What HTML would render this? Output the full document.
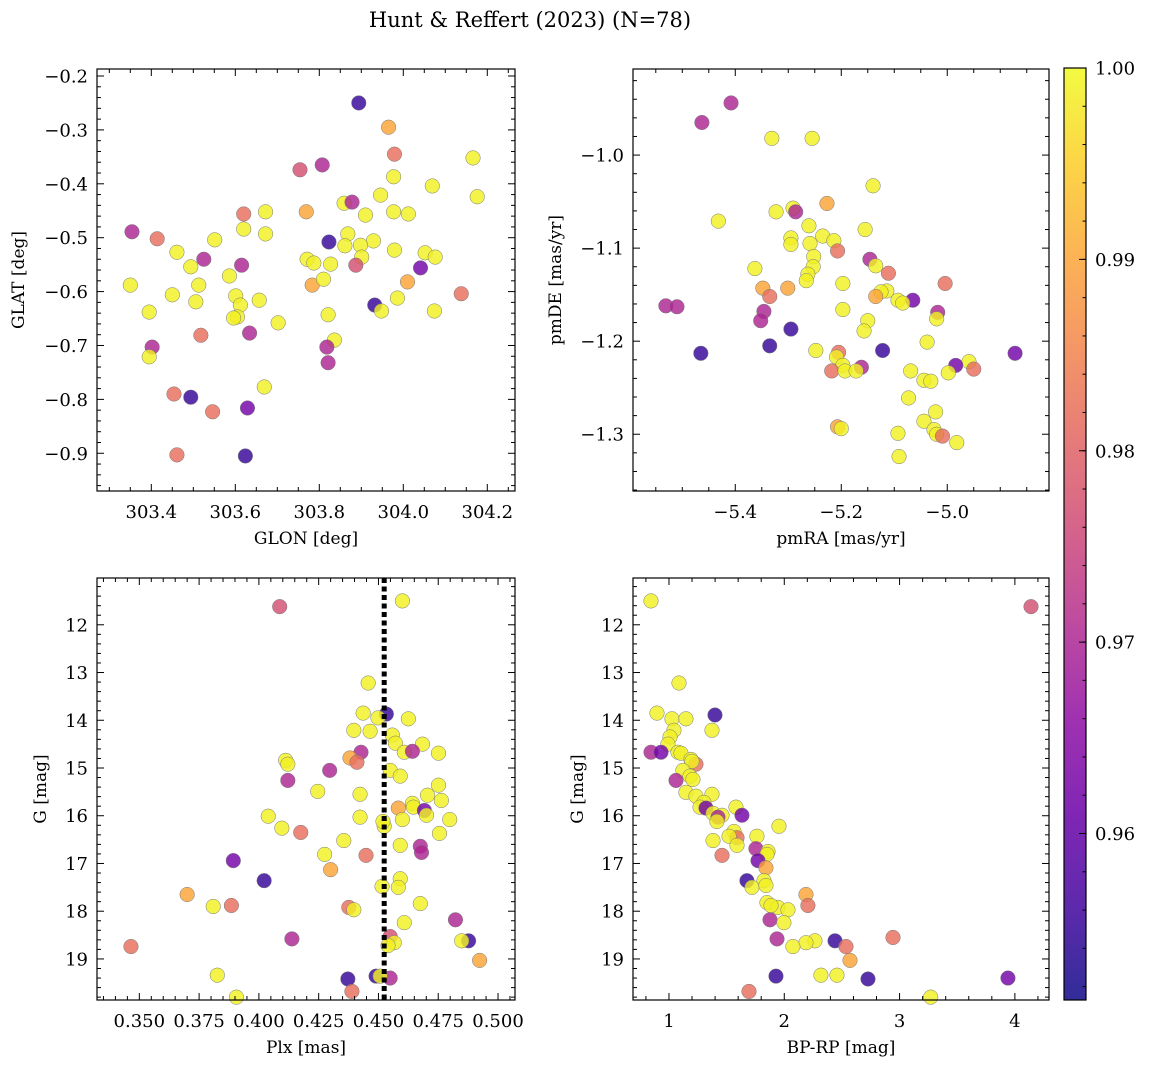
<!DOCTYPE html>
<html><head><meta charset="utf-8">
<style>
body{margin:0;background:#fff;}
svg text{font-family:"DejaVu Serif","Liberation Serif",serif;fill:#000;}
</style></head>
<body>
<svg id="fig" width="1149" height="1068" viewBox="0 0 1149 1068" xmlns="http://www.w3.org/2000/svg" font-family="DejaVu Serif, Liberation Serif, serif">
<rect width="1149" height="1068" fill="#fff"/>
<text x="530" y="27" font-size="21" text-anchor="middle" font-family="DejaVu Serif, Liberation Serif, serif">Hunt &amp; Reffert (2023) (N=78)</text>
</svg>
<script>
// ---- data ----
const p1Glon=[303.894,303.965,303.979,304.166,303.754,303.807,304.069,303.977,303.946,304.176,303.859,303.878,303.769,303.910,303.977,304.012,303.620,303.672,303.354,303.414,303.620,303.672,303.823,303.868,303.861,303.929,303.898,303.551,303.461,304.052,304.076,303.979,303.901,303.494,303.525,303.615,303.771,303.787,303.827,303.887,304.041,303.350,303.450,303.513,303.506,303.586,303.783,303.810,304.010,303.986,303.601,303.612,303.605,303.596,303.657,303.932,303.948,304.074,303.395,303.518,303.634,303.702,303.821,303.836,303.402,303.395,303.818,303.821,303.669,303.454,303.494,303.546,303.629,303.461,303.624,304.138];
const p1Glat=[-0.250,-0.295,-0.345,-0.352,-0.374,-0.365,-0.404,-0.387,-0.421,-0.424,-0.436,-0.434,-0.452,-0.458,-0.452,-0.456,-0.456,-0.452,-0.489,-0.502,-0.484,-0.493,-0.508,-0.493,-0.515,-0.506,-0.514,-0.504,-0.527,-0.528,-0.536,-0.523,-0.536,-0.554,-0.540,-0.551,-0.540,-0.547,-0.549,-0.551,-0.556,-0.588,-0.606,-0.588,-0.619,-0.571,-0.588,-0.577,-0.582,-0.612,-0.608,-0.625,-0.647,-0.649,-0.616,-0.625,-0.636,-0.636,-0.638,-0.681,-0.677,-0.658,-0.643,-0.690,-0.703,-0.721,-0.703,-0.732,-0.777,-0.790,-0.796,-0.823,-0.816,-0.903,-0.905,-0.604];
const p1Prob=[0.955,0.99,0.982,0.999,0.977,0.970,0.999,0.999,0.999,0.999,0.999,0.970,0.99,0.999,0.999,0.999,0.982,0.999,0.970,0.982,0.999,0.999,0.955,0.999,0.999,0.999,0.999,0.999,0.999,0.999,0.999,0.999,0.999,0.999,0.970,0.970,0.999,0.999,0.999,0.977,0.962,0.999,0.999,0.999,0.999,0.999,0.99,0.999,0.99,0.999,0.999,0.999,0.999,0.999,0.999,0.955,0.999,0.999,0.999,0.982,0.970,0.999,0.999,0.999,0.970,0.999,0.970,0.970,0.999,0.982,0.955,0.982,0.962,0.982,0.955,0.982];

const p2Pmra=[-5.408,-5.463,-5.331,-5.255,-5.140,-5.227,-5.291,-5.323,-5.286,-5.432,-5.261,-5.155,-5.235,-5.295,-5.214,-5.259,-5.295,-5.207,-5.146,-5.252,-5.135,-5.253,-5.363,-5.111,-5.263,-5.266,-5.197,-5.004,-5.348,-5.301,-5.114,-5.125,-5.135,-5.335,-5.065,-5.093,-5.084,-5.531,-5.510,-5.197,-5.018,-5.346,-5.020,-5.352,-5.150,-5.295,-5.157,-5.335,-5.038,-5.465,-5.122,-4.872,-5.248,-5.205,-5.209,-4.959,-4.984,-5.197,-5.162,-5.218,-5.193,-5.172,-5.069,-4.950,-4.998,-5.044,-5.031,-5.073,-5.022,-5.044,-5.207,-5.200,-5.093,-5.025,-5.020,-5.009,-4.982,-5.091];
const p2Pmde=[-0.944,-0.965,-0.982,-0.982,-1.033,-1.052,-1.057,-1.061,-1.061,-1.071,-1.076,-1.080,-1.087,-1.089,-1.092,-1.095,-1.096,-1.103,-1.112,-1.109,-1.119,-1.120,-1.122,-1.127,-1.128,-1.135,-1.138,-1.138,-1.143,-1.143,-1.146,-1.147,-1.152,-1.152,-1.156,-1.156,-1.159,-1.162,-1.163,-1.166,-1.169,-1.168,-1.176,-1.178,-1.178,-1.187,-1.189,-1.205,-1.201,-1.213,-1.210,-1.213,-1.210,-1.212,-1.217,-1.222,-1.226,-1.226,-1.228,-1.232,-1.232,-1.232,-1.232,-1.230,-1.234,-1.242,-1.243,-1.261,-1.276,-1.286,-1.292,-1.294,-1.299,-1.295,-1.300,-1.302,-1.309,-1.324];
const p2Prob=[0.970,0.970,0.999,0.999,0.999,0.99,0.999,0.999,0.970,0.999,0.999,0.999,0.999,0.999,0.999,0.999,0.999,0.982,0.970,0.999,0.999,0.999,0.999,0.982,0.999,0.999,0.999,0.982,0.99,0.99,0.999,0.999,0.99,0.982,0.962,0.999,0.999,0.970,0.970,0.999,0.970,0.970,0.999,0.970,0.999,0.955,0.999,0.955,0.999,0.955,0.955,0.962,0.999,0.982,0.999,0.999,0.962,0.999,0.970,0.982,0.999,0.999,0.999,0.982,0.999,0.999,0.999,0.999,0.999,0.999,0.99,0.999,0.999,0.999,0.999,0.982,0.999,0.999];

const p3Plx=[0.4087,0.4600,0.4457,0.4533,0.4436,0.4498,0.4625,0.4397,0.4465,0.4558,0.4571,0.4684,0.4427,0.4608,0.4642,0.4751,0.4112,0.4121,0.4381,0.4410,0.4296,0.4549,0.4591,0.4121,0.4751,0.4246,0.4705,0.4423,0.4763,0.4642,0.4646,0.4583,0.4692,0.4701,0.4798,0.4423,0.4039,0.4600,0.4524,0.4519,0.4755,0.4175,0.4096,0.4355,0.4675,0.4591,0.4680,0.4275,0.4448,0.3893,0.4300,0.4022,0.4591,0.4515,0.4583,0.3700,0.4675,0.3809,0.3885,0.4376,0.4397,0.4822,0.4608,0.4138,0.4549,0.4877,0.4848,0.4566,0.4540,0.3465,0.4923,0.3826,0.4372,0.4490,0.4549,0.4507,0.4389,0.3906];
const p3G=[11.62,11.50,13.22,13.87,13.85,13.95,13.97,14.21,14.23,14.31,14.48,14.50,14.67,14.67,14.65,14.69,14.84,14.92,14.79,14.88,15.05,15.05,15.17,15.26,15.36,15.49,15.57,15.55,15.68,15.74,15.82,15.84,15.89,15.99,16.08,16.03,16.01,16.08,16.22,16.12,16.37,16.35,16.26,16.52,16.64,16.62,16.77,16.81,16.83,16.94,17.13,17.36,17.32,17.48,17.50,17.65,17.84,17.90,17.88,17.92,17.97,18.18,18.24,18.58,18.53,18.62,18.62,18.66,18.72,18.74,19.03,19.34,19.42,19.36,19.40,19.36,19.68,19.80];
const p3Prob=[0.977,0.999,0.999,0.955,0.999,0.999,0.999,0.999,0.999,0.999,0.999,0.999,0.970,0.999,0.970,0.999,0.999,0.999,0.99,0.982,0.970,0.999,0.999,0.970,0.999,0.999,0.999,0.999,0.999,0.999,0.999,0.99,0.962,0.999,0.999,0.999,0.999,0.999,0.999,0.999,0.999,0.982,0.999,0.999,0.970,0.999,0.970,0.999,0.982,0.962,0.99,0.955,0.999,0.999,0.999,0.99,0.999,0.999,0.982,0.982,0.999,0.970,0.999,0.970,0.977,0.955,0.999,0.999,0.999,0.982,0.99,0.999,0.955,0.955,0.970,0.999,0.982,0.999];
const plxMean=0.4524;

const p4Bprp=[0.844,4.140,1.087,0.896,1.026,1.147,1.399,1.373,1.043,1.009,0.991,0.844,0.931,1.078,1.104,1.191,1.234,1.199,1.121,1.182,1.208,1.061,1.373,1.147,1.234,1.303,1.269,1.581,1.321,1.382,1.460,1.425,1.633,1.416,1.954,1.564,1.590,1.521,1.763,1.382,1.590,1.754,1.859,1.850,1.460,1.772,1.841,1.676,1.824,1.720,1.841,2.188,1.850,1.945,2.032,2.205,1.885,1.876,1.997,1.937,2.943,2.266,2.188,2.440,2.535,2.075,2.570,2.457,2.318,1.928,2.726,3.940,1.694,3.270];
const p4G=[11.50,11.62,13.22,13.85,13.97,13.97,13.89,14.21,14.21,14.35,14.50,14.67,14.67,14.67,14.69,14.82,14.92,14.86,15.05,15.17,15.24,15.26,15.55,15.51,15.59,15.72,15.82,15.82,15.84,15.95,15.99,16.03,15.99,16.12,16.22,16.33,16.46,16.43,16.43,16.52,16.62,16.69,16.75,16.81,16.83,16.94,17.09,17.36,17.36,17.50,17.46,17.65,17.82,17.92,17.97,17.88,17.88,18.18,18.24,18.58,18.55,18.62,18.66,18.62,18.74,18.74,19.03,19.34,19.34,19.36,19.42,19.40,19.68,19.80];
const p4Prob=[0.999,0.977,0.999,0.999,0.999,0.999,0.955,0.999,0.999,0.999,0.999,0.970,0.962,0.999,0.999,0.999,0.982,0.999,0.999,0.999,0.999,0.970,0.999,0.999,0.999,0.999,0.999,0.999,0.962,0.999,0.999,0.970,0.962,0.999,0.999,0.999,0.982,0.999,0.999,0.999,0.999,0.970,0.999,0.999,0.982,0.962,0.99,0.955,0.999,0.999,0.999,0.99,0.999,0.999,0.999,0.982,0.999,0.970,0.999,0.970,0.982,0.999,0.999,0.955,0.982,0.999,0.99,0.999,0.999,0.955,0.955,0.962,0.982,0.999];

const cbTicks=[0.96,0.97,0.98,0.99,1.00];
const cbMin=0.9513, cbMax=1.0;

// ---- helpers ----
const NS="http://www.w3.org/2000/svg";
const FF="DejaVu Serif, Liberation Serif, serif";
const FS=18;
const svg=document.getElementById('fig');
function mk(tag,attrs,parent){const e=document.createElementNS(NS,tag);for(const k in attrs)e.setAttribute(k,attrs[k]);(parent||svg).appendChild(e);return e;}
const stops=["#0d0887","#41049d","#6a00a8","#8f0da4","#b12a90","#cc4778","#e16462","#f2844b","#fca636","#fcce25","#f0f921"];
function hx(h){return [parseInt(h.substr(1,2),16),parseInt(h.substr(3,2),16),parseInt(h.substr(5,2),16)];}
function plasma(t){t=Math.max(0,Math.min(1,t));const f=t*10,i=Math.min(9,Math.floor(f)),r=f-i;const a=hx(stops[i]),b=hx(stops[i+1]);return 'rgb('+a.map((v,k)=>Math.round(v+(b[k]-v)*r)).join(',')+')';}
function col(p){return plasma((p-cbMin)/(cbMax-cbMin));}

function panel(o){
  const g=mk('g',{});
  
  
  const sx=v=>o.x0+(v-o.xmin)/(o.xmax-o.xmin)*(o.x1-o.x0);
  const sy=v=>o.inv? o.y0+(v-o.ymin)/(o.ymax-o.ymin)*(o.y1-o.y0) : o.y1-(v-o.ymin)/(o.ymax-o.ymin)*(o.y1-o.y0);
  for(let i=0;i<o.xs.length;i++){
    const c=mk('circle',{cx:sx(o.xs[i]),cy:sy(o.ys[i]),r:7.3,fill:col(o.ps[i]),'fill-opacity':0.82,stroke:'#777','stroke-width':0.5},g);
    
    
  }
  if(o.vline!==undefined){
    const l=mk('line',{x1:sx(o.vline),x2:sx(o.vline),y1:o.y0,y2:o.y1,stroke:'#000','stroke-width':5,'stroke-dasharray':'5,3.5'},g);
    
    
  }
  const fr=mk('rect',{x:o.x0,y:o.y0,width:o.x1-o.x0,height:o.y1-o.y0,fill:'none',stroke:'#000','stroke-width':1.2},g);
  
  
  const eps=1e-9;
  for(let v=Math.ceil(o.xmin/o.xmn-eps)*o.xmn; v<=o.xmax+eps; v+=o.xmn){
    const X=sx(v), maj=Math.abs(v/o.xmj-Math.round(v/o.xmj))<1e-4, L=maj?7:4;
    mk('line',{x1:X,x2:X,y1:o.y1,y2:o.y1-L,stroke:'#000','stroke-width':1},g);
    mk('line',{x1:X,x2:X,y1:o.y0,y2:o.y0+L,stroke:'#000','stroke-width':1},g);
    if(maj){const t=mk('text',{x:X,y:o.y1+27,'font-size':FS,'font-family':FF,'text-anchor':'middle'},g);t.textContent=o.xf(v).replace('-','\u2212');
      }
  }
  for(let v=Math.ceil(o.ymin/o.ymn-eps)*o.ymn; v<=o.ymax+eps; v+=o.ymn){
    const Y=sy(v), maj=Math.abs(v/o.ymj-Math.round(v/o.ymj))<1e-4, L=maj?7:4;
    mk('line',{x1:o.x0,x2:o.x0+L,y1:Y,y2:Y,stroke:'#000','stroke-width':1},g);
    mk('line',{x1:o.x1,x2:o.x1-L,y1:Y,y2:Y,stroke:'#000','stroke-width':1},g);
    if(maj){const t=mk('text',{x:o.x0-9,y:Y+6.5,'font-size':FS,'font-family':FF,'text-anchor':'end'},g);t.textContent=o.yf(v).replace('-','\u2212');
      }
  }
  const xl=mk('text',{x:(o.x0+o.x1)/2,y:o.y1+53,'font-size':17,'font-family':FF,'text-anchor':'middle'},g);xl.textContent=o.xl;
  
  const yx=o.ylx, yy=(o.y0+o.y1)/2;
  const yl=mk('text',{x:yx,y:yy,'font-size':17,'font-family':FF,'text-anchor':'middle',transform:'rotate(-90 '+yx+' '+yy+')'},g);yl.textContent=o.yl;
  
}

panel({name:'position-panel',x0:97,x1:515,y0:69,y1:491,xmin:303.2707,xmax:304.266,ymin:-0.970,ymax:-0.187,xmj:0.2,xmn:0.05,ymj:0.1,ymn:0.02,
 xs:p1Glon,ys:p1Glat,ps:p1Prob,xf:v=>v.toFixed(1),yf:v=>v.toFixed(1),xl:'GLON [deg]',yl:'GLAT [deg]',ylx:24});
panel({name:'proper-motion-panel',x0:633,x1:1049,y0:69,y1:491,xmin:-5.593,xmax:-4.808,ymin:-1.361,ymax:-0.9075,xmj:0.2,xmn:0.05,ymj:0.1,ymn:0.02,
 xs:p2Pmra,ys:p2Pmde,ps:p2Prob,xf:v=>v.toFixed(1),yf:v=>v.toFixed(1),xl:'pmRA [mas/yr]',yl:'pmDE [mas/yr]',ylx:561});
panel({name:'parallax-panel',x0:97,x1:515,y0:578,y1:1000,xmin:0.3323,xmax:0.5071,ymin:11.02,ymax:19.86,inv:true,xmj:0.025,xmn:0.005,ymj:1,ymn:0.2,
 xs:p3Plx,ys:p3G,ps:p3Prob,vline:plxMean,xf:v=>v.toFixed(3),yf:v=>v.toFixed(0),xl:'Plx [mas]',yl:'G [mag]',ylx:46});
panel({name:'cmd-panel',x0:633,x1:1049,y0:578,y1:1000,xmin:0.688,xmax:4.296,ymin:11.02,ymax:19.86,inv:true,xmj:1,xmn:0.2,ymj:1,ymn:0.2,
 xs:p4Bprp,ys:p4G,ps:p4Prob,xf:v=>v.toFixed(0),yf:v=>v.toFixed(0),xl:'BP-RP [mag]',yl:'G [mag]',ylx:583});

// colorbar
const cb=mk('g',{});


const defs=mk('defs',{},cb);
const lg=mk('linearGradient',{id:'pl',x1:0,y1:1,x2:0,y2:0},defs);
for(let i=0;i<=20;i++)mk('stop',{offset:i/20,'stop-color':plasma(i/20)},lg);
const cbx0=1064,cbx1=1086,cby0=68,cby1=1000;
mk('rect',{x:cbx0,y:cby0,width:cbx1-cbx0,height:cby1-cby0,fill:'url(#pl)','fill-opacity':0.85,stroke:'#000','stroke-width':1.2},cb);
const cy=v=>cby1-(v-cbMin)/(cbMax-cbMin)*(cby1-cby0);
for(let v=0.952;v<=1.00001;v+=0.002){const Y=cy(v);mk('line',{x1:cbx1,x2:cbx1-3.5,y1:Y,y2:Y,stroke:'#000','stroke-width':1},cb);}
cbTicks.forEach(v=>{const Y=cy(v);mk('line',{x1:cbx1,x2:cbx1-7,y1:Y,y2:Y,stroke:'#000','stroke-width':1},cb);
 const t=mk('text',{x:cbx1+9,y:Y+6.5,'font-size':FS,'font-family':FF},cb);t.textContent=v.toFixed(2);
 });
</script>
</body></html>
